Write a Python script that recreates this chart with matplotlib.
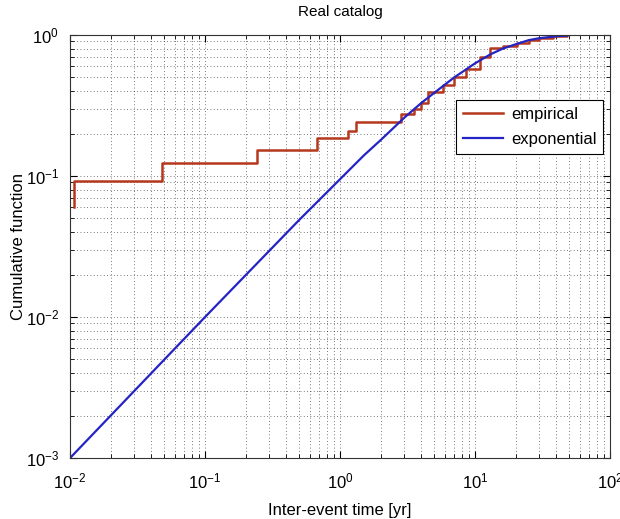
import matplotlib
matplotlib.use("Agg")
import matplotlib.pyplot as plt

plt.rcParams["font.family"] = ["Liberation Sans", "DejaVu Sans"]

# empirical CDF (step corners)
x_emp = [0.0107, 0.0107, 0.048, 0.243, 0.676, 1.15, 1.31, 2.83, 3.5, 4.0, 4.5,
         5.8, 7.0, 8.5, 10.9, 12.9, 16, 20.5, 25, 30, 38, 48]
y_emp = [0.060, 0.092, 0.124, 0.153, 0.186, 0.208, 0.241, 0.275, 0.30, 0.33, 0.394,
         0.44, 0.50, 0.57, 0.70, 0.81, 0.84, 0.88, 0.92, 0.95, 0.98, 1.0]

# exponential fit curve
x_exp = [0.01, 0.1, 0.5, 1, 1.5, 2, 3, 4, 5, 7, 10, 13, 16, 20, 25, 30, 40, 48]
y_exp = [0.001, 0.01, 0.049, 0.095, 0.14, 0.18, 0.26, 0.33, 0.39, 0.50, 0.63,
         0.73, 0.80, 0.86, 0.92, 0.95, 0.98, 0.99]

fig = plt.figure(figsize=(6.2, 5.19), dpi=100)
ax = fig.add_axes([0.113, 0.1175, 0.871, 0.815])

ax.plot(x_emp, y_emp, drawstyle="steps-post", color="#b5381c", lw=1.8, label="empirical")
ax.plot(x_exp, y_exp, color="#2424c4", lw=1.6, label="exponential")

ax.set_xscale("log")
ax.set_yscale("log")
ax.set_xlim(1e-2, 1e2)
ax.set_ylim(1e-3, 1e0)

ax.grid(True, which="both", color="black", linestyle=(0, (1, 3)), lw=0.6, alpha=0.7)
ax.tick_params(which="both", direction="in", top=True, right=True, labelsize=12)
ax.tick_params(axis="x", which="both", pad=10)
ax.tick_params(axis="y", which="both", pad=8)
ax.tick_params(which="major", length=5)
ax.tick_params(which="minor", length=3)
for s in ax.spines.values():
    s.set_color("#333333")

ax.set_title("Real catalog", fontsize=11, pad=14)
ax.set_xlabel("Inter-event time [yr]", fontsize=12, labelpad=8)
ax.set_ylabel("Cumulative function", fontsize=12, labelpad=0)

leg = ax.legend(loc="upper right", bbox_to_anchor=(0.987, 0.846), fontsize=12,
                fancybox=False, framealpha=1, edgecolor="black", borderaxespad=0,
                handlelength=2.4, handletextpad=0.5, labelspacing=0.6)
leg.get_frame().set_linewidth(0.8)

fig.savefig("out.png", dpi=100)
